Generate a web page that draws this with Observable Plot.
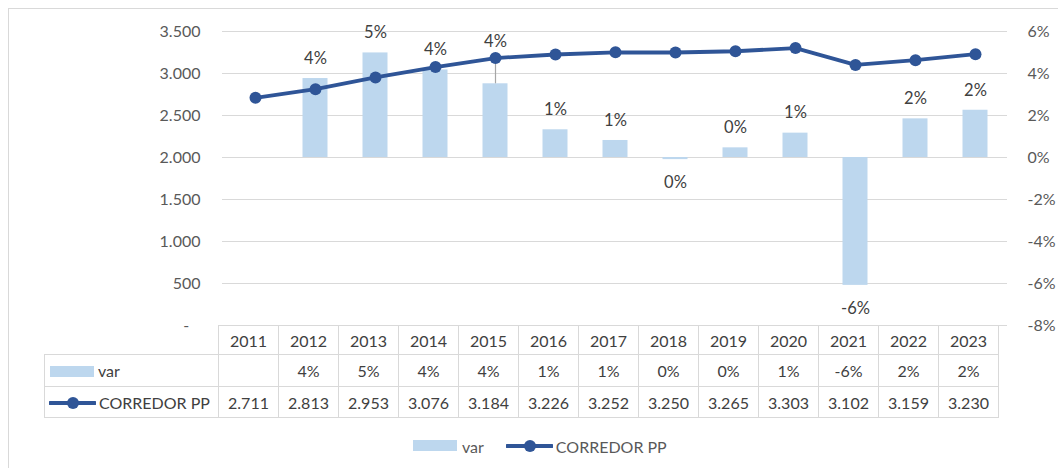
<!DOCTYPE html>
<html>
<head>
<meta charset="utf-8">
<script src="https://cdn.jsdelivr.net/npm/d3@7"></script>
<script src="https://cdn.jsdelivr.net/npm/@observablehq/plot@0.6"></script>
<style>
  html, body { margin: 0; padding: 0; background: #fff; }
  body { width: 1058px; height: 468px; overflow: hidden; position: relative; font-family: Lato, "Open Sans", sans-serif; }
  #frame { position: absolute; left: 8px; top: 8px; width: 1100px; height: 500px; border-top: 1px solid #D9D9D9; border-left: 1px solid #D9D9D9; }
  #chart { position: absolute; left: 0; top: 0; }
  #tbl { position: absolute; left: 44px; top: 325px; border-collapse: collapse; table-layout: fixed; color: #404040; font-size: 16px; background: transparent; }
  #tbl td { border: 1px solid #D9D9D9; padding: 0; text-align: center; white-space: nowrap; overflow: visible; }
  #tbl td.blank { border-top: none; border-left: none; }
  #tbl td.lab { text-align: left; padding-left: 5px; }
  .sw { display: inline-block; width: 44px; height: 11px; background: #BDD7EE; vertical-align: middle; margin-right: 4px; position: relative; top: -1px; }
  .ln { vertical-align: middle; margin-right: 3px; position: relative; top: -1px; }
  #legend { position: absolute; left: 413px; top: 437px; font-size: 16px; color: #595959; display: flex; align-items: center; }
  #legend .sw { margin-right: 5px; }
</style>
</head>
<body>
<div id="frame"></div>
<div id="chart"></div>
<table id="tbl"></table>
<div id="legend"></div>
<script>
// ---- data ----
const years = ["2011","2012","2013","2014","2015","2016","2017","2018","2019","2020","2021","2022","2023"];
const corredor = [2711, 2813, 2953, 3076, 3184, 3226, 3252, 3250, 3265, 3303, 3102, 3159, 3230];
// variation in percent (bars, right axis)
const variation = [null, 3.76, 4.98, 4.17, 3.51, 1.32, 0.81, -0.1, 0.46, 1.16, -6.09, 1.84, 2.25];
const leftTicks = [0, 500, 1000, 1500, 2000, 2500, 3000, 3500];
const rightTicks = [-8, -6, -4, -2, 0, 2, 4, 6];

const lineColor = "#2F5597";
const barColor = "#BDD7EE";
const textColor = "#404040";
const axisColor = "#595959";
const gridColor = "#D9D9D9";

// right axis (%) mapped onto left axis units: 0% <-> 2000, 2% per 500
const pctToY = p => 2000 + 250 * p;
const yToPct = y => (y - 2000) / 250;

const loc = d3.formatLocale({decimal: ",", thousands: ".", grouping: [3], currency: ["", "€"]});
const fmtNum = loc.format(",");
const fmtPct = p => { const r = Math.round(p); return (r === 0 ? 0 : r) + "%"; };

const rows = years.map((year, i) => ({year, value: corredor[i], pct: variation[i]}));
const barRows = rows.filter(d => d.pct != null).map(d => ({...d, top: pctToY(d.pct)}));

// label placement: above positive bars, below negative; lifted above the line point
// when the line point sits just above the bar top (where the label would go)
const isLifted = d => d.pct >= 0 && d.value - d.top > 100 && d.value - d.top < 400;
const above = barRows.filter(d => d.pct >= 0 && !isLifted(d));
const lifted = barRows.filter(isLifted);
const below = barRows.filter(d => d.pct < 0);

const font = "Lato, 'Open Sans', sans-serif";
const chart = Plot.plot({
  width: 1058,
  height: 345,
  marginLeft: 222,
  marginRight: 51,
  marginTop: 31,
  marginBottom: 20,
  style: {fontFamily: font, fontSize: "16px", background: "transparent"},
  x: {domain: years, padding: 0, axis: null},
  y: {domain: [0, 3500], axis: null},
  marks: [
    Plot.ruleY(leftTicks, {stroke: gridColor, strokeWidth: 1.2}),
    Plot.barY(barRows, {x: "year", y1: 2000, y2: "top", fill: barColor, insetLeft: 17.5, insetRight: 17.5}),
    Plot.ruleX(lifted, {x: "year", y1: "value", y2: "top", stroke: "#A6A6A6", strokeWidth: 1.2}),
    Plot.lineY(rows, {x: "year", y: "value", stroke: lineColor, strokeWidth: 3.8, strokeLinejoin: "round"}),
    Plot.dot(rows, {x: "year", y: "value", r: 6, fill: lineColor, stroke: "none"}),
    Plot.text(above, {x: "year", y: "top", dy: -20, text: d => fmtPct(d.pct), fill: textColor, fontSize: 16.5, lineAnchor: "middle"}),
    Plot.text(lifted, {x: "year", y: "value", dy: -16, text: d => fmtPct(d.pct), fill: textColor, fontSize: 16.5, lineAnchor: "middle"}),
    Plot.text(below, {x: "year", y: "top", dy: 23, text: d => fmtPct(d.pct), fill: textColor, fontSize: 16.5, lineAnchor: "middle"}),
    Plot.axisY({anchor: "left", ticks: leftTicks, tickSize: 0, tickPadding: 22,
      tickFormat: v => v === 0 ? "-\u2007\u2009" : fmtNum(v), fill: axisColor, fontSize: 16}),
    Plot.axisY({anchor: "right", ticks: rightTicks.map(pctToY), tickSize: 0, tickPadding: 20,
      tickFormat: v => Math.round(yToPct(v)) + "%", fill: axisColor, fontSize: 16})
  ]
});
document.getElementById("chart").appendChild(chart);

// ---- data table, columns sized from the chart's x scale ----
const xs = chart.scale("x");
const step = xs.step ?? xs.bandwidth ?? (xs.range[1] - xs.range[0]) / years.length;
const tbl = document.getElementById("tbl");
const colgroup = document.createElement("colgroup");
colgroup.innerHTML = `<col style="width:174px">` + years.map(() => `<col style="width:${step}px">`).join("");
tbl.appendChild(colgroup);
const lineSym = `<svg class="ln" width="47" height="14"><line x1="1" y1="7" x2="46" y2="7" stroke="${lineColor}" stroke-width="4" stroke-linecap="round"/><circle cx="24" cy="7" r="6" fill="${lineColor}"/></svg>`;
const tr1 = `<tr style="height:29px"><td class="blank"></td>${years.map(y => `<td>${y}</td>`).join("")}</tr>`;
const tr2 = `<tr style="height:32px"><td class="lab"><span class="sw"></span>var</td>${variation.map(p => `<td>${p == null ? "" : fmtPct(p)}</td>`).join("")}</tr>`;
const tr3 = `<tr style="height:31px"><td class="lab" style="padding-left:4px">${lineSym}CORREDOR PP</td>${corredor.map(v => `<td>${fmtNum(v)}</td>`).join("")}</tr>`;
tbl.insertAdjacentHTML("beforeend", tr1 + tr2 + tr3);

// ---- legend ----
document.getElementById("legend").innerHTML =
  `<span class="sw"></span><span style="margin-right:22px">var</span>${lineSym}<span>CORREDOR PP</span>`;
</script>
</body>
</html>
